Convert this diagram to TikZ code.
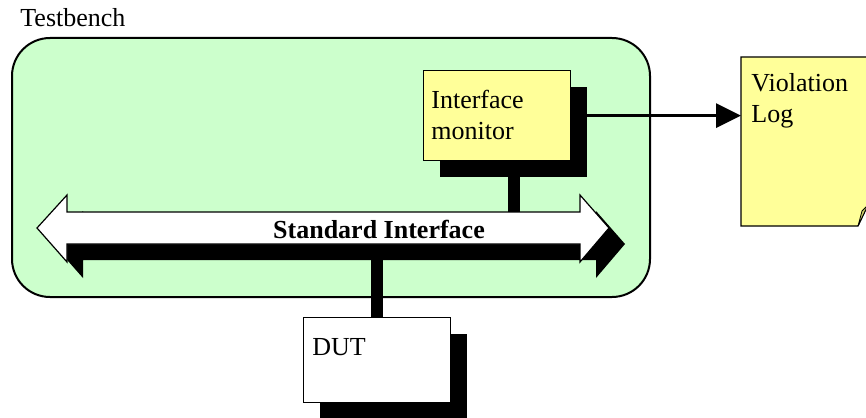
\documentclass[tikz,border=0pt]{standalone}
\usepackage{fontspec}
\setmainfont{Liberation Serif}
\usetikzlibrary{shadows,arrows.meta}
\definecolor{tbgreen}{HTML}{CCFFCC}
\definecolor{noteyellow}{HTML}{FFFF99}
\definecolor{foldyellow}{HTML}{CCCC66}
\begin{document}
\begin{tikzpicture}[x=0.5pt, y=-0.5pt,
  every node/.style={font=\fontsize{13}{15}\selectfont, inner sep=0pt},
  boxshadow/.style={drop shadow={shadow xshift=8pt, shadow yshift=-8pt, opacity=1, fill=black}},
  unitbox/.style={draw, line width=0.6pt, boxshadow, minimum width=73.5pt, anchor=north west},
  wirestem/.style={line width=6pt},
  txt/.style={anchor=base west}]
  \useasboundingbox (0,0) rectangle (866,417);
  % Testbench frame
  \filldraw[fill=tbgreen, line width=1pt, rounded corners=19pt] (12,38) rectangle (650,297);
  \node[txt] (tbname) at (20,27) {Testbench};
  % Bus attach points
  \coordinate (busN) at (514,212);
  \coordinate (busS) at (377,244);
  % Monitor and DUT
  \node[unitbox, fill=noteyellow, minimum height=45pt] (mon) at (423,70) {};
  \node[unitbox, fill=white, minimum height=42.5pt] (dut) at (303,317) {};
  \node[txt] (monA) at (431,109) {Interface};
  \node[txt] (monB) at (431,139) {monitor};
  \node[txt] (dutname) at (312,355) {DUT};
  % Stems to the bus
  \draw[wirestem] (busN |- mon.south) -- (busN);
  \draw[wirestem] (busS) -- (busS |- dut.north);
  % Standard interface bus
  \filldraw[fill=white, line width=0.6pt, boxshadow] (37,228) -- (67,195) -- (67,212) -- (580,212)
    -- (580,195) -- (609,228) -- (580,262) -- (580,244) -- (67,244) -- (67,262) -- cycle;
  \node[anchor=base, font=\fontsize{13}{15}\selectfont\bfseries] (busname) at (379,238) {Standard Interface};
  % Violation log sheet
  \filldraw[fill=noteyellow, line width=0.6pt] (741,57) -- (868,57) -- (868,205) -- (858,226) -- (741,226) -- cycle;
  \filldraw[fill=foldyellow, line width=0.4pt] (858,226) -- (868,205) -- (862,211) -- cycle;
  \coordinate (logW) at (741,117);
  \node[txt] (logA) at (751,91) {Violation};
  \node[txt] (logB) at (751,122) {Log};
  % Monitor output
  \draw[line width=1.5pt, -{Triangle[length=12.5pt, width=12pt]}] (mon.east) -- (mon.east -| logW);
\end{tikzpicture}
\end{document}
